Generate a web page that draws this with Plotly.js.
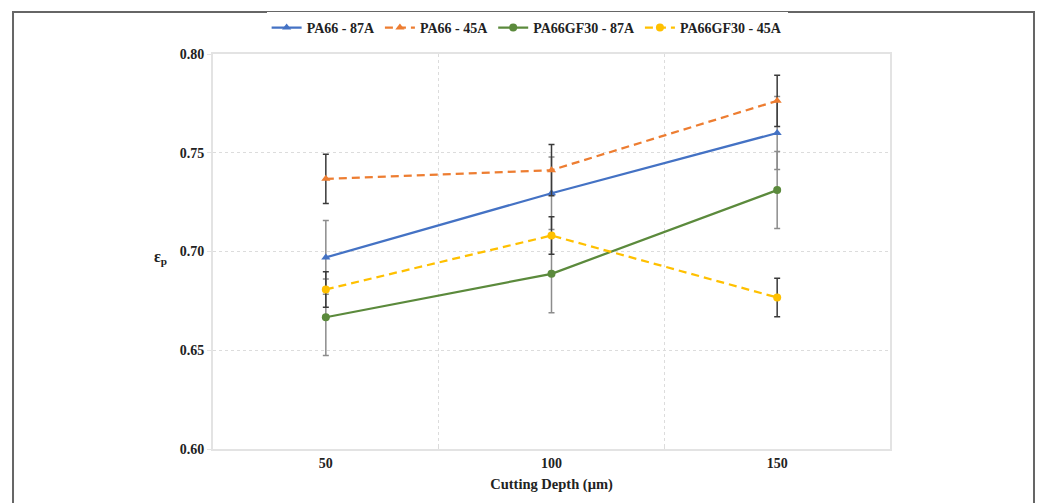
<!DOCTYPE html>
<html><head><meta charset="utf-8">
<script src="https://cdn.plot.ly/plotly-3.0.1.min.js"></script>
<style>html,body{margin:0;padding:0;background:#fff}#chart{width:1038px;height:503px}</style>
</head><body><div id="chart"></div>
<script>
const depths = ['50', '100', '150'];
const xIndex = [0, 1, 2];
const pa66_87A = [0.697, 0.7295, 0.760];
const pa66_87A_err = [0.0187, 0.0183, 0.0185];
const pa66_45A = [0.7368, 0.7412, 0.7763];
const pa66_45A_err = [0.0125, 0.013, 0.013];
const gf30_87A = [0.6667, 0.6887, 0.7311];
const gf30_87A_err = [0.0194, 0.0197, 0.0195];
const gf30_45A = [0.6808, 0.7081, 0.6767];
const gf30_45A_err = [0.009, 0.0095, 0.0097];

const serif = 'Liberation Serif, DejaVu Serif, serif';
function tr(name, y, err, color, dash, symbol, errColor) {
  return {
    type: 'scatter', mode: 'lines+markers', name: name, x: xIndex, y: y,
    line: {color: color, width: 2.25, dash: dash},
    marker: {color: color, symbol: symbol, size: 8},
    error_y: {type: 'data', array: err, visible: true, color: errColor, thickness: 1.5, width: 3}
  };
}
const data = [
  tr('PA66 - 87A', pa66_87A, pa66_87A_err, '#4472C4', 'solid', 'triangle-up', '#8c8c8c'),
  tr('PA66 - 45A', pa66_45A, pa66_45A_err, '#ED7D31', '8px,5px', 'triangle-up', '#3a3a3a'),
  tr('PA66GF30 - 87A', gf30_87A, gf30_87A_err, '#5B8A3C', 'solid', 'circle', '#8c8c8c'),
  tr('PA66GF30 - 45A', gf30_45A, gf30_45A_err, '#FFC000', '8px,5px', 'circle', '#3a3a3a')
];
const layout = {
  width: 1038, height: 503,
  margin: {l: 213, r: 148, t: 54, b: 54},
  paper_bgcolor: '#fff', plot_bgcolor: '#fff',
  font: {family: serif, size: 14, color: '#222'},
  showlegend: true,
  legend: {orientation: 'h', x: 0.464, xanchor: 'center', y: 1.066, yanchor: 'middle',
           font: {family: serif, size: 14, color: '#222', weight: 'bold'}, itemwidth: 30, tracegroupgap: 0},
  xaxis: {
    type: 'linear', range: [-0.5, 2.5], tickmode: 'array', tickvals: xIndex, ticktext: depths,
    showgrid: false, zeroline: false, showline: true, mirror: true, linecolor: '#e3e3e3', linewidth: 2,
    ticks: '', tickfont: {family: serif, size: 14, color: '#222', weight: 'bold'},
    minor: {tickmode: 'array', tickvals: [0.5, 1.5], showgrid: true, gridcolor: '#dcdcdc', griddash: '3px,3px', gridwidth: 1, ticks: 'inside', ticklen: 4, tickcolor: '#dcdcdc'},
    title: {text: 'Cutting Depth (μm)', font: {family: serif, size: 14.5, color: '#222', weight: 'bold'}, standoff: 9}
  },
  yaxis: {
    range: [0.60, 0.80], tickmode: 'array', tickvals: [0.60, 0.65, 0.70, 0.75, 0.80],
    ticktext: ['0.60', '0.65', '0.70', '0.75', '0.80'],
    showgrid: true, gridcolor: '#dcdcdc', griddash: '3px,3px', gridwidth: 1, zeroline: false,
    showline: true, mirror: true, linecolor: '#e3e3e3', linewidth: 2, ticks: 'outside', ticklen: 4, tickcolor: '#e3e3e3',
    tickfont: {family: serif, size: 14, color: '#222', weight: 'bold'}
  },
  annotations: [{
    xref: 'paper', yref: 'y', x: -0.078, y: 0.697, xanchor: 'center', yanchor: 'middle', showarrow: false,
    text: '<b>ε<sub>p</sub></b>', font: {family: serif, size: 16, color: '#222'}
  }],
  shapes: [{
    type: 'rect', xref: 'paper', yref: 'paper', x0: -0.2954, x1: 1.2127, y0: -0.25, y1: 1.1063,
    line: {color: '#666', width: 2}, fillcolor: 'rgba(0,0,0,0)', layer: 'below'
  }]
};
Plotly.newPlot('chart', data, layout, {displayModeBar: false, staticPlot: true});
</script></body></html>
